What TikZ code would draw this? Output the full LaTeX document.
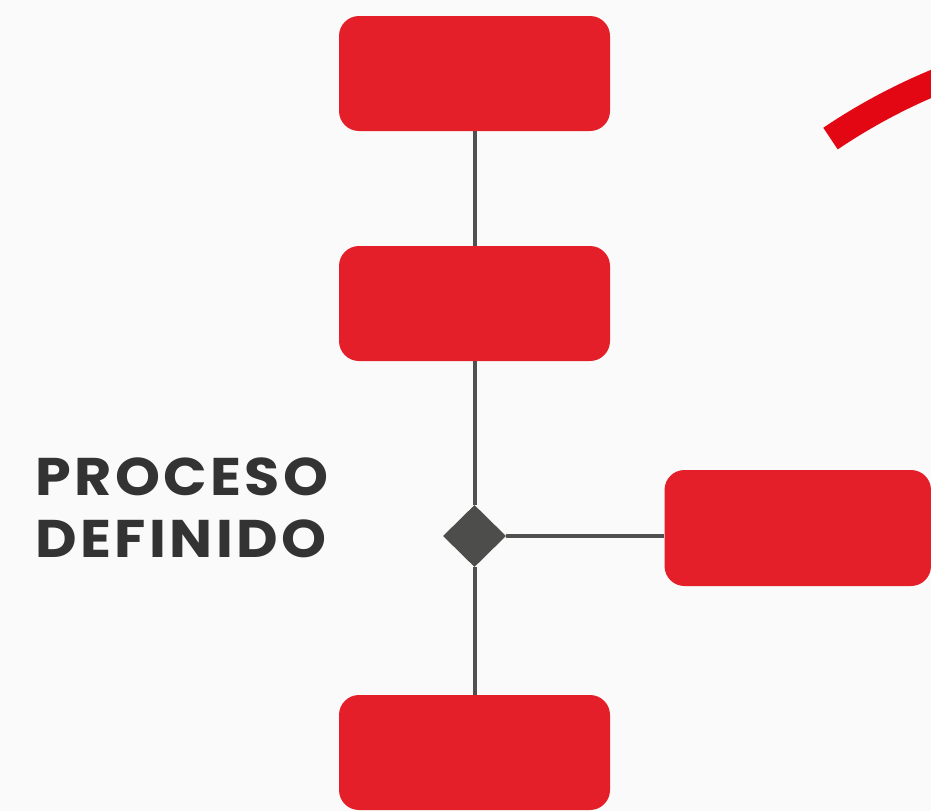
\documentclass[tikz,border=0pt]{standalone}
\usepackage{fontspec}
\newfontfamily\lblfont{Poppins}[LetterSpace=6.5, FakeStretch=1.08]
\usetikzlibrary{shapes.geometric}
\definecolor{bg}{HTML}{FAFAFA}
\definecolor{boxred}{HTML}{E51F2A}
\definecolor{arcred}{HTML}{E30613}
\definecolor{linegray}{HTML}{505050}
\definecolor{diagray}{HTML}{4D4D4B}
\definecolor{txt}{HTML}{333333}
\begin{document}
\begin{tikzpicture}[x=1pt,y=-1pt,
  box/.style={fill=boxred, rounded corners=20pt, minimum width=271pt, minimum height=115pt, inner sep=0pt, draw=none},
  conn/.style={line width=4pt, draw=linegray},
  gate/.style={diamond, fill=diagray, minimum width=63pt, minimum height=62pt, inner sep=0pt},
  lbl/.style={anchor=base west, align=left, inner sep=0pt, text=txt, font=\lblfont\bfseries\fontsize{53pt}{62pt}\selectfont}]
\fill[bg] (0,0) rectangle (931,811);
\useasboundingbox (0,0) rectangle (931,811);
\clip (0,0) rectangle (931,811);
\coordinate (ac) at (1166,636);
\draw[arcred, line width=26pt] (ac) ++(-124:600) arc[start angle=-124, end angle=-100, radius=600];
\node[box] (b1) at (474.5,73.5) {};
\node[box] (b2) at (474.5,303.5) {};
\node[box] (b4) at (474.5,752.5) {};
\node[box, minimum width=266.5pt, minimum height=116pt] (b3) at (797.75,528) {};
\node[gate] (d) at (474.5,536) {};
\draw[conn] (b1.south) -- (b2.north);
\draw[conn] (b2.south) -- (d.north);
\draw[conn] (d.south) -- (b4.north);
\draw[conn] (d.east) -- (d.east -| b3.west);
\node[lbl] (t) at (35,557) {PROCESO\\DEFINIDO};
\end{tikzpicture}
\end{document}
